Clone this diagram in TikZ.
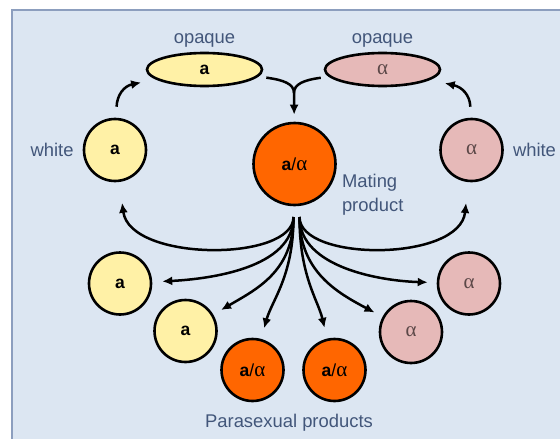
\documentclass[tikz,border=0pt]{standalone}
\usepackage{fontspec}
\setmainfont{Liberation Sans}
\newfontfamily\greekfont{Liberation Serif}
\usetikzlibrary{arrows.meta,positioning,shapes.geometric}
\definecolor{panel}{RGB}{220,230,242}
\definecolor{edgeblue}{RGB}{140,158,190}
\definecolor{labelblue}{RGB}{66,86,122}
\definecolor{yel}{RGB}{255,241,166}
\definecolor{rose}{RGB}{230,185,184}
\definecolor{hybrid}{RGB}{255,102,0}
\definecolor{alphagray}{RGB}{92,72,72}
\newcommand{\sexa}{{\bfseries a}}
\newcommand{\sexal}{{\greekfont\fontsize{21}{22}\selectfont α}}
\newcommand{\cellfont}{\fontsize{17.5}{20}\selectfont}
\newcommand{\lblfont}{\fontsize{18.4}{24}\selectfont}
\tikzset{cell/.style={circle,draw=black,line width=2.6pt,minimum size=62pt,inner sep=0pt,font=\cellfont},acell/.style={cell,fill=yel},alcell/.style={cell,fill=rose,text=alphagray},hcell/.style={cell,fill=hybrid},opq/.style={ellipse,draw=black,line width=2.6pt,minimum width=115pt,minimum height=33pt,inner sep=0pt,font=\cellfont},lbl/.style={text=labelblue,font=\lblfont,inner sep=1pt},flow/.style={-{Latex[length=10pt,width=9pt]},line width=2.5pt},link/.style={line width=2.5pt}}

\begin{document}
\begin{tikzpicture}[x=1pt,y=-1pt]
\useasboundingbox (0,0) rectangle (560,439);
\fill[white] (0,0) rectangle (560,439);
\draw[fill=panel,draw=edgeblue,line width=1.5pt] (12,10) rectangle (580,460);
% opaque and white cells
\node[opq,fill=yel] (oa) at (204.5,69.5) {\sexa};
\node[opq,fill=rose,text=alphagray] (oal) at (382.5,69.5) {\sexal};
\node[acell] (wa) at (115,150) {\sexa};
\node[alcell] (wal) at (471.5,150) {\sexal};
\node[hcell,minimum size=82pt] (mp) at (294.5,164) {\sexa/\sexal};
\node[lbl,above=3pt of oa] (opqa) {opaque};
\node[lbl,above=3pt of oal] (opqal) {opaque};
\node[lbl,left=8pt of wa] (wha) {white};
\node[lbl,right=8pt of wal] (whal) {white};
\node[lbl,align=left,anchor=west] (mplbl) at ([xshift=4pt,yshift=-31pt]mp.east) {Mating\\product};
% parasexual products
\node[acell] (pa1) at (120,283.5) {\sexa};
\node[acell] (pa2) at (185.5,331) {\sexa};
\node[hcell] (ph1) at (252.5,370) {\sexa/\sexal};
\node[hcell] (ph2) at (334.5,370) {\sexa/\sexal};
\node[alcell] (pal2) at (411,332) {\sexal};
\node[alcell] (pal1) at (469,283.5) {\sexal};
\node[lbl] (para) at (289,423) {Parasexual products};
\coordinate (join) at (294,93);
\coordinate (fanl) at (293.5,217);
\coordinate (fanr) at (299.5,217);
% switching
\draw[flow,shorten <=11pt,shorten >=15pt] (wa) .. controls (117,95) and (124,86) .. (oa);
\draw[flow,shorten <=11pt,shorten >=15pt] (wal) .. controls (470,95) and (462,87) .. (oal);
% mating
\draw[link,shorten <=8pt] (oa) .. controls (284,80) and (294,84) .. (join);
\draw[link,shorten <=8pt] (oal) .. controls (304,80) and (294,84) .. (join);
\draw[flow,shorten >=7pt] (join) -- (mp);
% parasexual fan
\draw[flow,shorten >=21pt] (fanl) .. controls (293.5,262) and (130,262) .. (wa);
\draw[flow,shorten >=10pt] (fanl) .. controls (293.5,268) and (210,279) .. (pa1);
\draw[flow,shorten >=9pt] (fanl) .. controls (293.5,272) and (255,290) .. (pa2);
\draw[flow,shorten >=11pt] (fanl) .. controls (293.5,276) and (272,300) .. (ph1);
\draw[flow,shorten >=11pt] (fanr) .. controls (299.5,276) and (318,300) .. (ph2);
\draw[flow,shorten >=9pt] (fanr) .. controls (299.5,272) and (338,293) .. (pal2);
\draw[flow,shorten >=9pt] (fanr) .. controls (299.5,268) and (382,281) .. (pal1);
\draw[flow,shorten >=21pt] (fanr) .. controls (299.5,262) and (460,262) .. (wal);
\end{tikzpicture}
\end{document}
